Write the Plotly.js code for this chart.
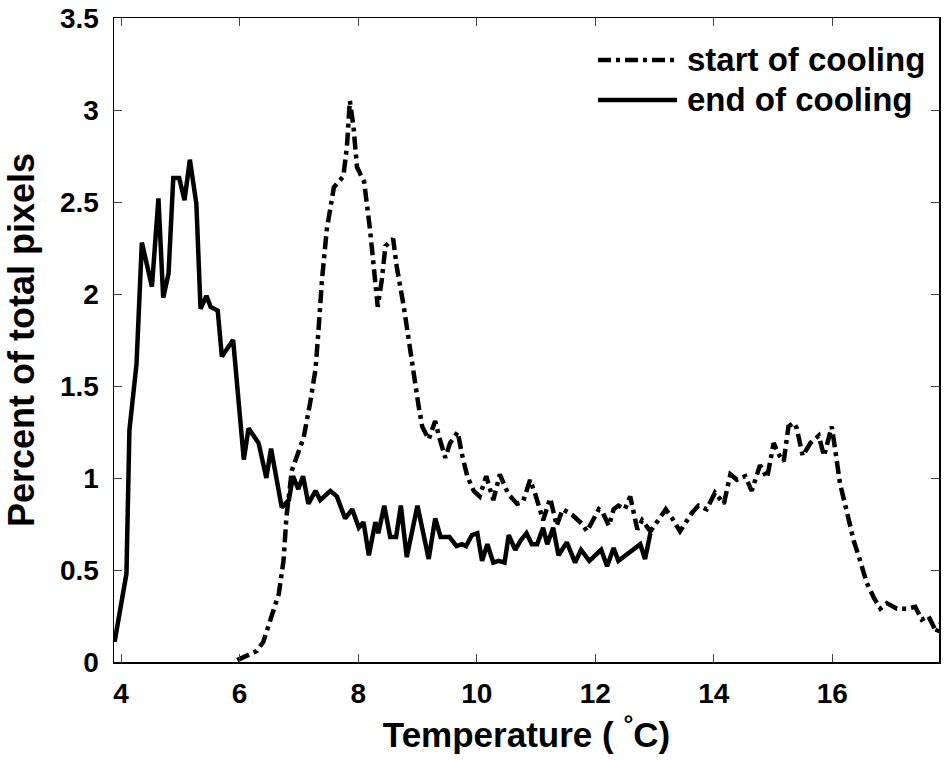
<!DOCTYPE html>
<html>
<head>
<meta charset="utf-8">
<script src="https://cdn.plot.ly/plotly-3.0.1.min.js"></script>
<style>html,body{margin:0;padding:0;background:#fff;}#chart{width:947px;height:762px;}</style>
</head>
<body>
<div id="chart"></div>
<script>
// Temperature (°C) and percent of total pixels
var startX = [5.96,6.29,6.40,6.55,6.66,6.74,6.79,6.88,7.08,7.19,7.28,7.33,7.39,7.47,7.59,7.75,7.81,7.86,7.92,7.98,8.10,8.20,8.26,8.33,8.40,8.46,8.59,8.65,8.77,8.85,8.94,9.02,9.08,9.19,9.30,9.36,9.47,9.55,9.68,9.75,9.84,9.95,10.05,10.16,10.28,10.39,10.48,10.54,10.68,10.78,10.90,10.99,11.12,11.24,11.35,11.45,11.61,11.78,11.86,11.97,12.06,12.13,12.23,12.31,12.39,12.50,12.59,12.65,12.71,12.79,12.93,13.04,13.19,13.30,13.43,13.63,13.74,13.88,14.02,14.17,14.28,14.39,14.53,14.64,14.78,14.90,15.01,15.11,15.18,15.26,15.35,15.40,15.50,15.63,15.77,15.86,15.94,15.99,16.05,16.13,16.25,16.36,16.47,16.58,16.70,16.81,16.92,17.09,17.26,17.40,17.51,17.62,17.76,17.82];
var startY = [0.01,0.06,0.11,0.25,0.37,0.55,0.79,1.04,1.22,1.41,1.59,1.80,2.08,2.35,2.58,2.64,2.80,3.05,2.91,2.69,2.61,2.35,2.15,1.93,2.08,2.26,2.30,2.15,1.93,1.75,1.57,1.39,1.28,1.21,1.31,1.23,1.11,1.19,1.25,1.13,1.01,0.93,0.90,1.01,0.88,1.02,0.95,0.91,0.86,0.87,0.99,0.91,0.77,0.89,0.74,0.83,0.80,0.75,0.71,0.77,0.83,0.81,0.74,0.83,0.85,0.83,0.90,0.81,0.72,0.77,0.71,0.76,0.83,0.78,0.71,0.81,0.85,0.83,0.92,0.86,1.02,0.99,1.01,0.93,1.07,1.00,1.19,1.12,1.09,1.28,1.30,1.27,1.12,1.19,1.23,1.12,1.23,1.28,1.15,0.97,0.81,0.66,0.55,0.43,0.35,0.29,0.32,0.29,0.29,0.30,0.23,0.25,0.16,0.21];
var endX = [3.89,4.09,4.14,4.26,4.35,4.52,4.63,4.71,4.80,4.88,4.98,5.07,5.16,5.27,5.34,5.44,5.51,5.63,5.70,5.89,6.07,6.15,6.32,6.45,6.53,6.71,6.83,6.90,6.99,7.07,7.16,7.28,7.36,7.53,7.64,7.78,7.90,8.01,8.09,8.18,8.29,8.34,8.44,8.54,8.64,8.72,8.82,9.00,9.19,9.30,9.39,9.54,9.66,9.75,9.82,9.92,10.01,10.09,10.18,10.28,10.37,10.47,10.54,10.65,10.74,10.84,10.93,11.02,11.12,11.19,11.29,11.38,11.52,11.66,11.76,11.90,12.10,12.20,12.31,12.39,12.76,12.84,12.93];
var endY = [0.11,0.48,1.26,1.62,2.28,2.04,2.52,1.98,2.11,2.63,2.63,2.51,2.73,2.49,1.92,1.99,1.93,1.91,1.66,1.75,1.10,1.27,1.19,1.00,1.16,0.84,0.88,1.01,0.94,1.01,0.86,0.93,0.88,0.93,0.90,0.78,0.83,0.73,0.76,0.58,0.76,0.70,0.85,0.68,0.68,0.85,0.57,0.85,0.56,0.78,0.68,0.68,0.63,0.64,0.63,0.69,0.70,0.55,0.64,0.54,0.55,0.54,0.69,0.61,0.66,0.70,0.64,0.64,0.73,0.64,0.73,0.58,0.65,0.54,0.61,0.55,0.61,0.52,0.62,0.55,0.64,0.56,0.70];
var seriesNames = ['start of cooling', 'end of cooling'];
var xTicks = [4, 6, 8, 10, 12, 14, 16];
var yTicks = [0, 0.5, 1, 1.5, 2, 2.5, 3, 3.5];

var FONT = 'Liberation Sans, Arial, sans-serif';
var dashDot = '13px,5px,4px,5px';

var traces = [
  {x: startX, y: startY, name: seriesNames[0], mode: 'lines', type: 'scatter',
   line: {color: '#000', width: 4.5, dash: dashDot}, showlegend: false},
  {x: endX, y: endY, name: seriesNames[1], mode: 'lines', type: 'scatter',
   line: {color: '#000', width: 4.5}, showlegend: false}
];

// legend drawn in paper coordinates
var legRows = [0.9348, 0.8727];
var shapes = [
  {type: 'line', xref: 'paper', yref: 'paper', x0: 0.5867, x1: 0.6825, y0: legRows[0], y1: legRows[0],
   line: {color: '#000', width: 4.5, dash: dashDot}},
  {type: 'line', xref: 'paper', yref: 'paper', x0: 0.5867, x1: 0.6825, y0: legRows[1], y1: legRows[1],
   line: {color: '#000', width: 4.5}}
];
var annotations = seriesNames.map(function (n, i) {
  return {text: n, xref: 'paper', yref: 'paper', x: 0.6925, y: legRows[i],
    xanchor: 'left', yanchor: 'middle', showarrow: false,
    font: {family: FONT, size: 33, color: '#000', weight: 'bold'}};
});

var axisCommon = {
  showgrid: false, zeroline: false, showline: true, linecolor: '#000', linewidth: 1.5,
  mirror: 'ticks', ticks: 'inside', ticklen: 8, tickwidth: 1, tickcolor: '#444',
  tickfont: {family: FONT, size: 28, color: '#000', weight: 'bold'}
};

var layout = {
  width: 947, height: 762,
  margin: {l: 114, r: 8, t: 18, b: 100},
  paper_bgcolor: '#fff', plot_bgcolor: '#fff',
  xaxis: Object.assign({}, axisCommon, {
    range: [3.88, 17.8], tickvals: xTicks, ticktext: xTicks.map(String),
    ticklabelstandoff: 6,
    title: {text: 'Temperature ( <sup>°</sup>C)', standoff: 14,
      font: {family: FONT, size: 35, color: '#000', weight: 'bold'}}
  }),
  yaxis: Object.assign({}, axisCommon, {
    range: [0, 3.5], tickvals: yTicks, ticktext: yTicks.map(String),
    ticklabelstandoff: 8,
    title: {text: 'Percent of total pixels', standoff: 14,
      font: {family: FONT, size: 36, color: '#000', weight: 'bold'}}
  }),
  shapes: shapes,
  annotations: annotations,
  showlegend: false
};

Plotly.newPlot('chart', traces, layout, {displayModeBar: false, staticPlot: true});
</script>
</body>
</html>
